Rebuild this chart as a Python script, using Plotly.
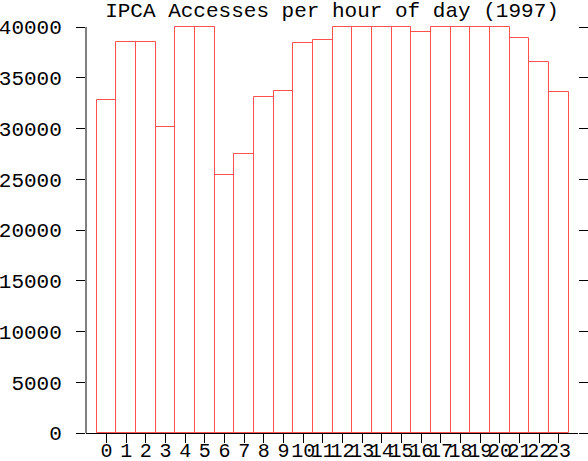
import plotly.graph_objects as go

hours = list(range(24))
hour_labels = [str(h) for h in hours]
accesses = [32800, 38500, 38500, 30100, 40000, 40000, 25400, 27500,
            33100, 33700, 38400, 38700, 40000, 40000, 40000, 40000,
            39500, 40000, 40000, 40000, 40000, 38900, 36600, 33600]
y_ticks = list(range(0, 40001, 5000))
title_text = "IPCA Accesses per hour of day (1997)"

FONT = "Liberation Mono"
RED = "#ff5050"
Y_TOP = 40000 * 407 / 406  # one pixel of headroom so the top edges of full bars stay visible

fig = go.Figure()
fig.add_trace(go.Bar(
    x=hours, y=accesses, width=1,
    marker=dict(color="rgba(255,255,255,0)", line=dict(color=RED, width=1)),
    showlegend=False, hoverinfo="skip",
))
fig.add_trace(go.Scatter(
    x=hours, y=accesses, yaxis="y2", mode="markers",
    marker=dict(opacity=0), showlegend=False, hoverinfo="skip",
))

fig.update_layout(
    width=588, height=461,
    margin=dict(l=86, r=10, t=26, b=28, pad=0),
    paper_bgcolor="white", plot_bgcolor="white",
    font=dict(family=FONT, size=21, color="black"),
    title=dict(text=title_text, x=0.5, xref="paper", xanchor="center",
               y=1 - 2 / 461, yref="container", yanchor="top", pad=dict(t=0, b=0),
               automargin=False,
               font=dict(family=FONT, size=21, color="black")),
    xaxis=dict(range=[-1.04, 23.97], tickmode="array", tickvals=hours,
               ticktext=hour_labels, tickangle=0, ticks="outside", ticklen=9,
               tickcolor="black", tickwidth=1, showline=True, linecolor="black",
               linewidth=1, showgrid=False, zeroline=False, layer="below traces",
               automargin=False,
               tickfont=dict(family=FONT, size=20, color="black"),
               ticklabelstandoff=-10),
    yaxis=dict(range=[0, Y_TOP], tickmode="array", tickvals=y_ticks,
               ticktext=[str(v) for v in y_ticks], ticks="outside", ticklen=9,
               tickcolor="black", tickwidth=1, showline=False,
               showgrid=False, zeroline=False, automargin=False,
               tickfont=dict(family=FONT, size=21, color="black"),
               ticklabelstandoff=10),
    yaxis2=dict(range=[0, Y_TOP], overlaying="y", side="right",
                tickmode="array", tickvals=y_ticks, ticks="outside", ticklen=10,
                tickcolor="black", tickwidth=1, showticklabels=False,
                showline=False, showgrid=False, zeroline=False, automargin=False),
    shapes=[dict(type="line", xref="x domain", yref="y", x0=0, x1=0,
                 y0=0, y1=40000, line=dict(color="black", width=1))],
    bargap=0,
)

fig.write_html("out.html", config={"displayModeBar": False},
               post_script="document.body.style.margin='0';document.body.style.padding='0';")
